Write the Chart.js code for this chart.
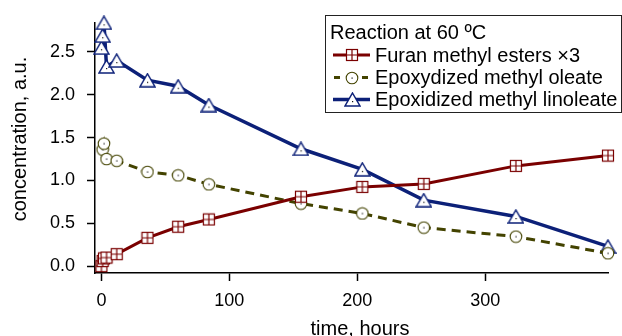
<!DOCTYPE html>
<html>
<head>
<meta charset="utf-8">
<script src="https://cdn.jsdelivr.net/npm/chart.js@4.4.1/dist/chart.umd.min.js"></script>
<style>
  html, body { margin: 0; padding: 0; background: #ffffff; }
  #wrap { width: 622px; height: 336px; position: relative; }
</style>
</head>
<body>
<div id="wrap"><canvas id="c" width="622" height="336"></canvas></div>
<script>
// ---- data ----
const furanTimes = [0, 1, 2, 4, 12, 36, 60, 84, 156, 204, 252, 324, 396];
const furanValues = [0.00, 0.06, 0.09, 0.10, 0.14, 0.33, 0.46, 0.545, 0.81, 0.925, 0.96, 1.17, 1.29];

const oleateTimes = [1, 2, 4, 12, 36, 60, 84, 156, 204, 252, 324, 396];
const oleateValues = [1.36, 1.43, 1.25, 1.23, 1.10, 1.06, 0.955, 0.73, 0.615, 0.45, 0.345, 0.15];

const linoleateTimes = [0, 1, 2, 4, 12, 36, 60, 84, 156, 204, 252, 324, 396];
const linoleateValues = [2.55, 2.69, 2.84, 2.33, 2.40, 2.17, 2.10, 1.88, 1.37, 1.13, 0.77, 0.58, 0.23];

const seriesNames = ['Furan methyl esters \u00d73', 'Epoxydized methyl oleate', 'Epoxidized methyl linoleate'];
const legendTitle = 'Reaction at 60 \u00baC';
const xTickValues = [0, 100, 200, 300];
const yTickValues = [0.0, 0.5, 1.0, 1.5, 2.0, 2.5];
const xTitle = 'time, hours';
const yTitle = 'concentration, a.u.';

// ---- styles ----
const FONT = "'Liberation Sans', Arial, Helvetica, sans-serif";
const RED = '#7a0000';
const OLIVE = '#434300';
const BLUE = '#0c2078';

function makeSquare() {
  const c = document.createElement('canvas'); c.width = 14; c.height = 14;
  const g = c.getContext('2d');
  g.fillStyle = '#fff'; g.fillRect(1, 1, 12, 12);
  g.strokeStyle = RED; g.lineWidth = 1.2;
  g.strokeRect(1.5, 1.5, 11, 11);
  g.beginPath(); g.moveTo(7, 1.5); g.lineTo(7, 12.5); g.moveTo(1.5, 7); g.lineTo(12.5, 7); g.stroke();
  return c;
}
function makeCircle() {
  const c = document.createElement('canvas'); c.width = 14; c.height = 14;
  const g = c.getContext('2d');
  g.beginPath(); g.arc(7, 7, 5.8, 0, Math.PI * 2);
  g.fillStyle = '#fff'; g.fill();
  g.strokeStyle = OLIVE; g.lineWidth = 1.1; g.stroke();
  g.fillStyle = '#111'; g.fillRect(6.5, 6.5, 1.2, 1.2);
  return c;
}
function makeTriangle() {
  const c = document.createElement('canvas'); c.width = 17; c.height = 15;
  const g = c.getContext('2d');
  g.beginPath(); g.moveTo(8.5, 1); g.lineTo(16, 14); g.lineTo(1, 14); g.closePath();
  g.fillStyle = '#fff'; g.fill();
  g.strokeStyle = BLUE; g.lineWidth = 1.5; g.stroke();
  g.fillStyle = '#111'; g.fillRect(8, 9, 1.2, 1.2);
  return c;
}
const sqImg = makeSquare(), ciImg = makeCircle(), trImg = makeTriangle();

function pts(t, v) { return t.map((x, i) => ({ x: x, y: v[i] })); }

const overlay = {
  id: 'overlay',
  afterDraw(chart) {
    const ctx = chart.ctx;
    ctx.save();
    // axis titles
    ctx.fillStyle = '#000';
    ctx.font = '20px ' + FONT;
    ctx.textAlign = 'center';
    ctx.textBaseline = 'alphabetic';
    ctx.fillText(xTitle, 360, 335);
    ctx.save();
    ctx.translate(20, 139);
    ctx.rotate(-Math.PI / 2);
    ctx.textBaseline = 'middle';
    ctx.fillText(yTitle, 0, 0);
    ctx.restore();

    // legend box
    const bx = 325.5, by = 15.5, bw = 296, bh = 97;
    ctx.fillStyle = '#fff';
    ctx.fillRect(bx, by, bw, bh);
    ctx.strokeStyle = '#222'; ctx.lineWidth = 1;
    ctx.strokeRect(bx, by, bw, bh);
    ctx.fillStyle = '#000';
    ctx.textAlign = 'left';
    ctx.textBaseline = 'middle';
    ctx.font = '20px ' + FONT;
    ctx.fillText(legendTitle, 330, 33);
    const rows = [
      { y: 55, color: RED, dash: [], w: 3, img: sqImg },
      { y: 77.5, color: OLIVE, dash: [6, 8], w: 3, img: ciImg },
      { y: 99.5, color: BLUE, dash: [], w: 3.5, img: trImg }
    ];
    rows.forEach((r, i) => {
      ctx.save();
      ctx.strokeStyle = r.color; ctx.lineWidth = r.w; ctx.setLineDash(r.dash);
      ctx.lineDashOffset = r.dash.length ? -1 : 0;
      ctx.beginPath(); ctx.moveTo(333, r.y); ctx.lineTo(370, r.y); ctx.stroke();
      ctx.restore();
      ctx.drawImage(r.img, Math.round(352 - r.img.width / 2), Math.round(r.y - r.img.height / 2));
      ctx.fillStyle = '#000';
      ctx.fillText(seriesNames[i], 375, r.y + 1);
    });
    ctx.restore();
  }
};

new Chart(document.getElementById('c'), {
  type: 'scatter',
  data: {
    datasets: [
      {
        label: seriesNames[0], data: pts(furanTimes, furanValues), showLine: true,
        borderColor: RED, borderWidth: 3, pointStyle: sqImg, pointRadius: 7,
        backgroundColor: '#fff', clip: false
      },
      {
        label: seriesNames[1], data: pts(oleateTimes, oleateValues), showLine: true,
        borderColor: OLIVE, borderWidth: 3, borderDash: [9, 6], pointStyle: ciImg, pointRadius: 7,
        backgroundColor: '#fff', clip: false
      },
      {
        label: seriesNames[2], data: pts(linoleateTimes, linoleateValues), showLine: true,
        borderColor: BLUE, borderWidth: 3.5, pointStyle: trImg, pointRadius: 8,
        backgroundColor: '#fff', clip: false
      }
    ]
  },
  options: {
    responsive: false,
    animation: false,
    layout: { padding: { top: 18, right: 14, left: 0, bottom: 0 } },
    plugins: { legend: { display: false }, tooltip: { enabled: false } },
    elements: { line: { tension: 0 } },
    scales: {
      x: {
        type: 'linear', min: -5, max: 396,
        afterFit(s) { s.height = 63; },
        afterBuildTicks(s) { s.ticks = xTickValues.map(v => ({ value: v })); },
        border: { display: true, color: '#000', width: 1.5 },
        grid: { display: true, drawOnChartArea: false, drawTicks: true, tickLength: 8, tickColor: '#000', tickWidth: 1.5 },
        ticks: { color: '#000', font: { family: FONT, size: 18 }, padding: 9, maxRotation: 0, callback: v => String(v) }
      },
      y: {
        type: 'linear', min: -0.08, max: 2.84,
        afterFit(s) { s.width = 95; },
        afterBuildTicks(s) { s.ticks = yTickValues.map(v => ({ value: v })); },
        border: { display: true, color: '#000', width: 1.5 },
        grid: { display: true, drawOnChartArea: false, drawTicks: true, tickLength: 8, tickColor: '#000', tickWidth: 1.5 },
        ticks: { color: '#000', font: { family: FONT, size: 18 }, padding: 12, callback: v => Number(v).toFixed(1) }
      }
    }
  },
  plugins: [overlay]
});
</script>
</body>
</html>
